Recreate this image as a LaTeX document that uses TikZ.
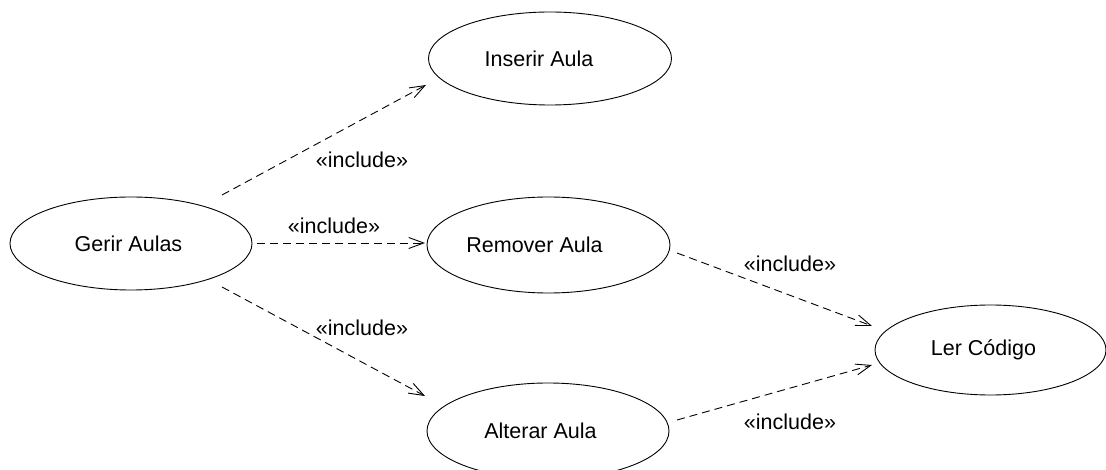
\documentclass[tikz,border=0pt]{standalone}
\usepackage{fontspec}
\setmainfont{Liberation Sans}
\usetikzlibrary{shapes.geometric,arrows.meta,calc}
\begin{document}
\begin{tikzpicture}[x=1pt,y=-1pt,
  uc/.style={draw,ellipse,line width=0.9pt,inner sep=0pt,font=\fontsize{21.5}{24}\selectfont},
  inc/.style={draw,line width=0.9pt,dash pattern=on 8pt off 5pt,-{Straight Barb[length=15pt,width=11pt,line width=0.9pt]}},
  lbl/.style={inner sep=0pt,font=\fontsize{21.5}{24}\selectfont}]
\useasboundingbox (0,0) rectangle (1106,470);
\node[uc,minimum width=243pt,minimum height=93pt] (i) at (550,58.5) {Inserir Aula\kern22pt};
\node[uc,minimum width=242pt,minimum height=93pt] (g) at (131,243.5) {Gerir Aulas\kern5pt};
\node[uc,minimum width=243pt,minimum height=96pt] (r) at (548.5,245) {Remover Aula\kern28pt};
\node[uc,minimum width=242pt,minimum height=96pt] (a) at (548,431) {Alterar Aula\kern15pt};
\node[uc,minimum width=231pt,minimum height=90pt] (l) at (990.5,350) {Ler Código\kern14pt};
\draw[inc] ($(g)+(91,-48.5)$) -- ($(i)+(-124,26.5)$);
\draw[inc] ($(g)+(126,-0.5)$) -- ($(r)+(-123.5,-2)$);
\draw[inc] ($(g)+(91,43.5)$) -- ($(a)+(-123,-35)$);
\draw[inc] ($(r)+(128.5,8)$) -- ($(l)+(-118.5,-24)$);
\draw[inc] ($(a)+(129,-11)$) -- ($(l)+(-118.5,15)$);
\node[lbl] (l1) at (362,160) {«include»};
\node[lbl] (l2) at (334,226) {«include»};
\node[lbl] (l3) at (362,328) {«include»};
\node[lbl] (l4) at (790,264) {«include»};
\node[lbl] (l5) at (790,422) {«include»};
\end{tikzpicture}
\end{document}
